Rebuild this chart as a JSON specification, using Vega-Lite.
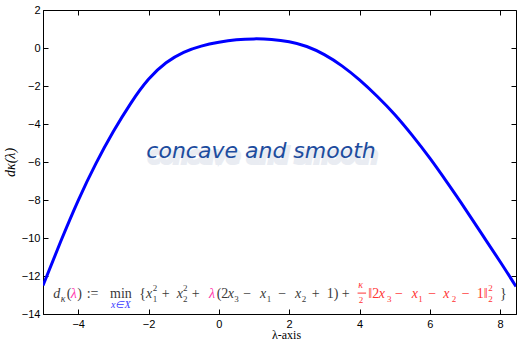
{
  "$schema": "https://vega.github.io/schema/vega-lite/v6.json",
  "width": 473,
  "height": 304,
  "autosize": "none",
  "padding": {"left": 43, "top": 10, "right": 1, "bottom": 27},
  "background": "white",
  "config": {
    "view": {"stroke": "#000", "strokeWidth": 1},
    "axis": {
      "domainColor": "#000",
      "tickColor": "#000",
      "labelColor": "#000",
      "labelFont": "Liberation Sans",
      "labelFontSize": 11,
      "grid": false,
      "tickSize": -5,
      "titleColor": "#000"
    }
  },
  "datasets": {
    "curve": [
      {"lam": -5.0, "d": -12.5},
      {"lam": -4.5, "d": -10.2},
      {"lam": -4.0, "d": -8.03},
      {"lam": -3.5, "d": -6.1},
      {"lam": -3.0, "d": -4.4},
      {"lam": -2.5, "d": -2.9},
      {"lam": -2.0, "d": -1.65},
      {"lam": -1.5, "d": -0.78},
      {"lam": -1.0, "d": -0.23},
      {"lam": -0.5, "d": 0.1},
      {"lam": 0.0, "d": 0.3},
      {"lam": 0.5, "d": 0.43},
      {"lam": 1.0, "d": 0.48},
      {"lam": 1.5, "d": 0.45},
      {"lam": 2.0, "d": 0.33},
      {"lam": 2.5, "d": 0.08},
      {"lam": 3.0, "d": -0.35},
      {"lam": 3.5, "d": -0.94},
      {"lam": 4.0, "d": -1.68},
      {"lam": 4.5, "d": -2.54},
      {"lam": 5.0, "d": -3.5},
      {"lam": 5.5, "d": -4.6},
      {"lam": 6.0, "d": -5.8},
      {"lam": 6.5, "d": -7.1},
      {"lam": 7.0, "d": -8.45},
      {"lam": 7.5, "d": -9.85},
      {"lam": 8.0, "d": -11.25},
      {"lam": 8.45, "d": -12.55}
    ],
    "note": [{"lam": 1.2, "d": -5.79, "txt": "concave and smooth"}],
    "mathItalic": [
      {"lam": -4.707, "d": -13.17, "txt": "d", "tone": "plain"},
      {"lam": -4.212, "d": -13.17, "txt": "λ", "tone": "lambda"},
      {"lam": -2.071, "d": -13.17, "txt": "x", "tone": "plain"},
      {"lam": -1.198, "d": -13.17, "txt": "x", "tone": "plain"},
      {"lam": -0.28, "d": -13.17, "txt": "λ", "tone": "lambda"},
      {"lam": 0.25, "d": -13.17, "txt": "x", "tone": "plain"},
      {"lam": 1.171, "d": -13.17, "txt": "x", "tone": "plain"},
      {"lam": 2.166, "d": -13.17, "txt": "x", "tone": "plain"},
      {"lam": 4.545, "d": -13.17, "txt": "x", "tone": "penalty"},
      {"lam": 5.484, "d": -13.17, "txt": "x", "tone": "penalty"},
      {"lam": 6.383, "d": -13.17, "txt": "x", "tone": "penalty"}
    ],
    "mathUpright": [
      {"lam": -4.326, "d": -13.17, "txt": "(", "tone": "plain"},
      {"lam": -4.025, "d": -13.17, "txt": ")", "tone": "plain"},
      {"lam": -3.757, "d": -13.17, "txt": ":=", "tone": "plain"},
      {"lam": -3.095, "d": -13.17, "txt": "min", "tone": "plain"},
      {"lam": -2.262, "d": -13.17, "txt": "{", "tone": "plain"},
      {"lam": -1.625, "d": -13.17, "txt": "+", "tone": "plain"},
      {"lam": -0.772, "d": -13.17, "txt": "+", "tone": "plain"},
      {"lam": -0.061, "d": -13.17, "txt": "(2", "tone": "plain"},
      {"lam": 0.696, "d": -13.17, "txt": "−", "tone": "plain"},
      {"lam": 1.691, "d": -13.17, "txt": "−", "tone": "plain"},
      {"lam": 2.641, "d": -13.17, "txt": "+", "tone": "plain"},
      {"lam": 3.067, "d": -13.17, "txt": "1)", "tone": "plain"},
      {"lam": 3.494, "d": -13.17, "txt": "+", "tone": "plain"},
      {"lam": 4.25, "d": -13.17, "txt": "‖2", "tone": "penalty"},
      {"lam": 5.009, "d": -13.17, "txt": "−", "tone": "penalty"},
      {"lam": 5.956, "d": -13.17, "txt": "−", "tone": "penalty"},
      {"lam": 6.906, "d": -13.17, "txt": "−", "tone": "penalty"},
      {"lam": 7.333, "d": -13.17, "txt": "1‖", "tone": "penalty"},
      {"lam": 7.995, "d": -13.17, "txt": "}", "tone": "plain"}
    ],
    "mathSmallItalic": [
      {"lam": -4.498, "d": -13.35, "txt": "κ", "tone": "plain"},
      {"lam": -3.066, "d": -13.7, "txt": "x∈X", "tone": "set"},
      {"lam": 3.966, "d": -12.63, "txt": "κ", "tone": "penalty"}
    ],
    "mathSmallUpright": [
      {"lam": -1.881, "d": -12.79, "txt": "2", "tone": "plain"},
      {"lam": -1.881, "d": -13.35, "txt": "1", "tone": "plain"},
      {"lam": -1.019, "d": -12.79, "txt": "2", "tone": "plain"},
      {"lam": -1.019, "d": -13.35, "txt": "2", "tone": "plain"},
      {"lam": 0.437, "d": -13.35, "txt": "3", "tone": "plain"},
      {"lam": 1.361, "d": -13.35, "txt": "1", "tone": "plain"},
      {"lam": 2.356, "d": -13.35, "txt": "2", "tone": "plain"},
      {"lam": 3.976, "d": -13.41, "txt": "2", "tone": "penalty"},
      {"lam": 4.783, "d": -13.35, "txt": "3", "tone": "penalty"},
      {"lam": 5.672, "d": -13.35, "txt": "1", "tone": "penalty"},
      {"lam": 6.622, "d": -13.35, "txt": "2", "tone": "penalty"},
      {"lam": 7.663, "d": -12.79, "txt": "2", "tone": "penalty"},
      {"lam": 7.663, "d": -13.35, "txt": "2", "tone": "penalty"}
    ],
    "fractionBar": [{"lam": 3.945, "lam2": 4.187, "d": -12.9}]
  },
  "resolve": {"axis": {"x": "independent", "y": "independent"}},
  "layer": [
    {
      "data": {"name": "curve"},
      "mark": {"type": "line", "color": "#0000ff", "strokeWidth": 3, "interpolate": "natural", "clip": true},
      "encoding": {
        "x": {
          "field": "lam", "type": "quantitative",
          "scale": {"domain": [-5, 8.45], "nice": false, "zero": false},
          "axis": {
            "orient": "bottom", "values": [-4, -2, 0, 2, 4, 6, 8],
            "labelPadding": 9, "title": "λ-axis",
            "titleFont": "Liberation Serif", "titleFontSize": 12, "titleFontWeight": "normal",
            "titlePadding": 0, "titleX": 243
          }
        },
        "y": {
          "field": "d", "type": "quantitative",
          "scale": {"domain": [-14, 2], "nice": false, "zero": false},
          "axis": {
            "orient": "left", "values": [-14, -12, -10, -8, -6, -4, -2, 0, 2],
            "labelPadding": 8, "title": "dκ(λ)",
            "titleFont": "Liberation Serif", "titleFontSize": 14, "titleFontWeight": "normal",
            "titleFontStyle": "italic", "titlePadding": 4
          }
        }
      }
    },
    {
      "data": {"name": "curve"},
      "mark": {"type": "line", "opacity": 0},
      "encoding": {
        "x": {"field": "lam", "type": "quantitative",
          "axis": {"orient": "top", "values": [-4, -2, 0, 2, 4, 6, 8], "labels": false, "title": null, "domain": false}},
        "y": {"field": "d", "type": "quantitative",
          "axis": {"orient": "right", "values": [-14, -12, -10, -8, -6, -4, -2, 0, 2], "labels": false, "title": null, "domain": false}}
      }
    },
    {
      "data": {"name": "note"},
      "mark": {"type": "text", "font": "DejaVu Sans", "fontSize": 22, "fontStyle": "italic", "align": "center", "baseline": "alphabetic", "color": "#aab7cf", "stroke": "#aab7cf", "strokeWidth": 4, "opacity": 0.25, "dx": 2, "dy": 5},
      "encoding": {
        "x": {"field": "lam", "type": "quantitative", "axis": null},
        "y": {"field": "d", "type": "quantitative", "axis": null},
        "text": {"field": "txt"}
      }
    },
    {
      "data": {"name": "note"},
      "mark": {"type": "text", "font": "DejaVu Sans", "fontSize": 22, "fontStyle": "italic", "align": "center", "baseline": "alphabetic", "color": "#1d4c9e"},
      "encoding": {
        "x": {"field": "lam", "type": "quantitative", "axis": null},
        "y": {"field": "d", "type": "quantitative", "axis": null},
        "text": {"field": "txt"}
      }
    },
    {
      "data": {"name": "mathItalic"},
      "mark": {"type": "text", "font": "Liberation Serif", "fontSize": 14, "fontStyle": "italic", "align": "left", "baseline": "alphabetic"},
      "encoding": {
        "x": {"field": "lam", "type": "quantitative", "axis": null},
        "y": {"field": "d", "type": "quantitative", "axis": null},
        "text": {"field": "txt"},
        "color": {"field": "tone", "type": "nominal", "legend": null,
          "scale": {"domain": ["plain", "lambda", "set", "penalty"], "range": ["#3a3a3a", "#ff33aa", "#3a3aff", "#ff3333"]}}
      }
    },
    {
      "data": {"name": "mathUpright"},
      "mark": {"type": "text", "font": "Liberation Serif", "fontSize": 14, "align": "left", "baseline": "alphabetic"},
      "encoding": {
        "x": {"field": "lam", "type": "quantitative", "axis": null},
        "y": {"field": "d", "type": "quantitative", "axis": null},
        "text": {"field": "txt"},
        "color": {"field": "tone", "type": "nominal", "legend": null}
      }
    },
    {
      "data": {"name": "mathSmallItalic"},
      "mark": {"type": "text", "font": "Liberation Serif", "fontSize": 10, "fontStyle": "italic", "align": "left", "baseline": "alphabetic"},
      "encoding": {
        "x": {"field": "lam", "type": "quantitative", "axis": null},
        "y": {"field": "d", "type": "quantitative", "axis": null},
        "text": {"field": "txt"},
        "color": {"field": "tone", "type": "nominal", "legend": null}
      }
    },
    {
      "data": {"name": "mathSmallUpright"},
      "mark": {"type": "text", "font": "Liberation Serif", "fontSize": 9, "align": "left", "baseline": "alphabetic"},
      "encoding": {
        "x": {"field": "lam", "type": "quantitative", "axis": null},
        "y": {"field": "d", "type": "quantitative", "axis": null},
        "text": {"field": "txt"},
        "color": {"field": "tone", "type": "nominal", "legend": null}
      }
    },
    {
      "data": {"name": "fractionBar"},
      "mark": {"type": "rule", "color": "#ff3333", "strokeWidth": 1},
      "encoding": {
        "x": {"field": "lam", "type": "quantitative", "axis": null},
        "x2": {"field": "lam2"},
        "y": {"field": "d", "type": "quantitative", "axis": null}
      }
    }
  ]
}
